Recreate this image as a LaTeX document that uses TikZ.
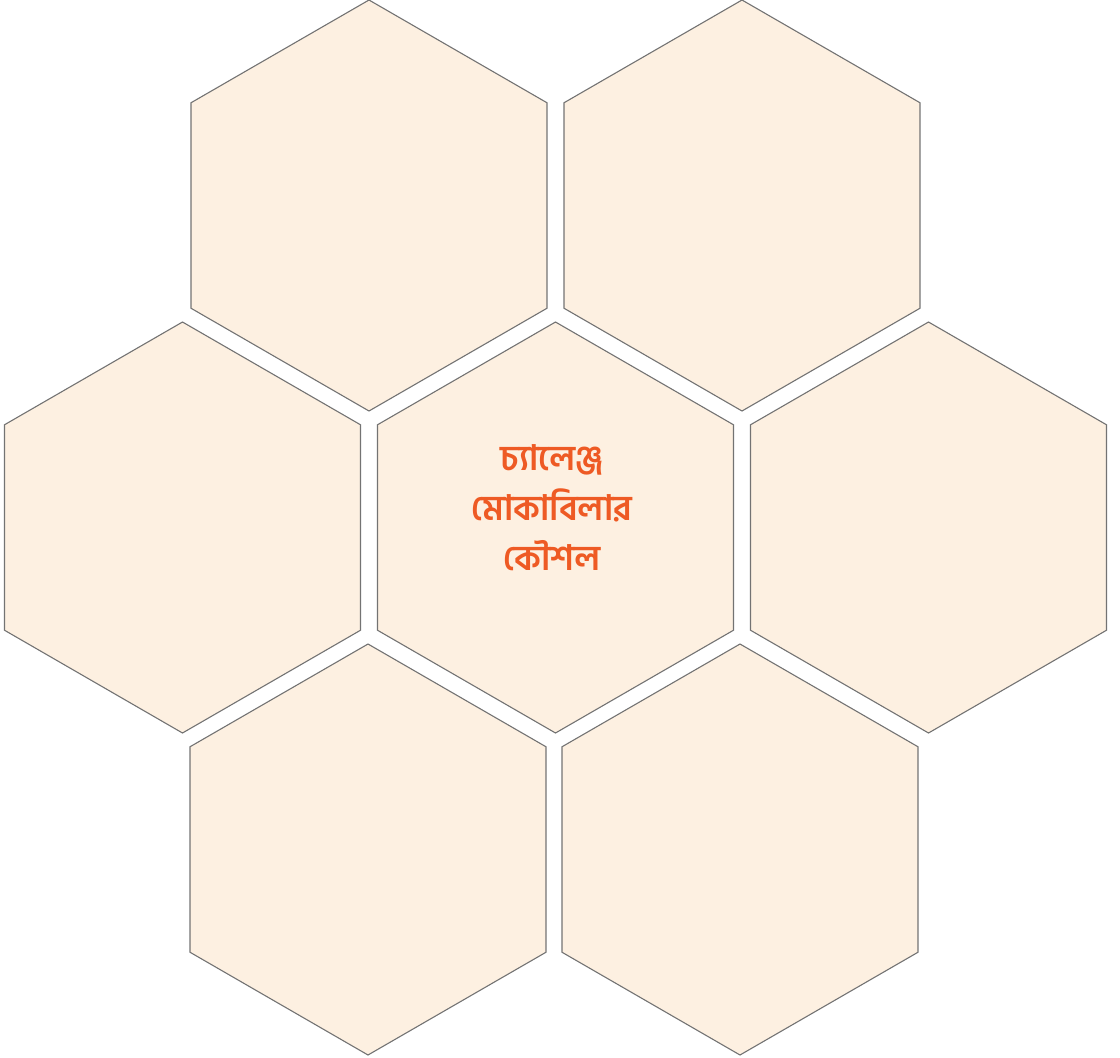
\documentclass[tikz,border=0pt]{standalone}
\usepackage{fontspec}
\newfontfamily\bnfont[Script=Bengali]{Hind Siliguri}
\usetikzlibrary{shapes.geometric}
\definecolor{hexfill}{HTML}{FDF0E1}
\definecolor{hexline}{HTML}{737373}
\definecolor{txtcol}{HTML}{EE5A24}
\begin{document}
\begin{tikzpicture}[x=1pt,y=-1pt,
  hexagon/.style={regular polygon, regular polygon sides=6, shape border rotate=30,
    minimum size=411pt, inner sep=0pt, outer sep=0pt, draw=hexline, fill=hexfill, line width=1.1pt},
  label/.style={text=txtcol, font=\bnfont\bfseries\fontsize{35}{50}\selectfont, align=center}]
\useasboundingbox (0,0) rectangle (1120,1058);
\node[hexagon] (h1) at (369,205.5) {};
\node[hexagon] (h2) at (742,205.5) {};
\node[hexagon] (h3) at (182.5,527.5) {};
\node[hexagon] (h4) at (555.5,527.5) {};
\node[hexagon] (h5) at (928.5,527.5) {};
\node[hexagon] (h6) at (368,849.5) {};
\node[hexagon] (h7) at (740,849.5) {};
\node[label] (t) at (552,508) {চ্যালেঞ্জ\\মোকাবিলার\\কৌশল};
\end{tikzpicture}
\end{document}
